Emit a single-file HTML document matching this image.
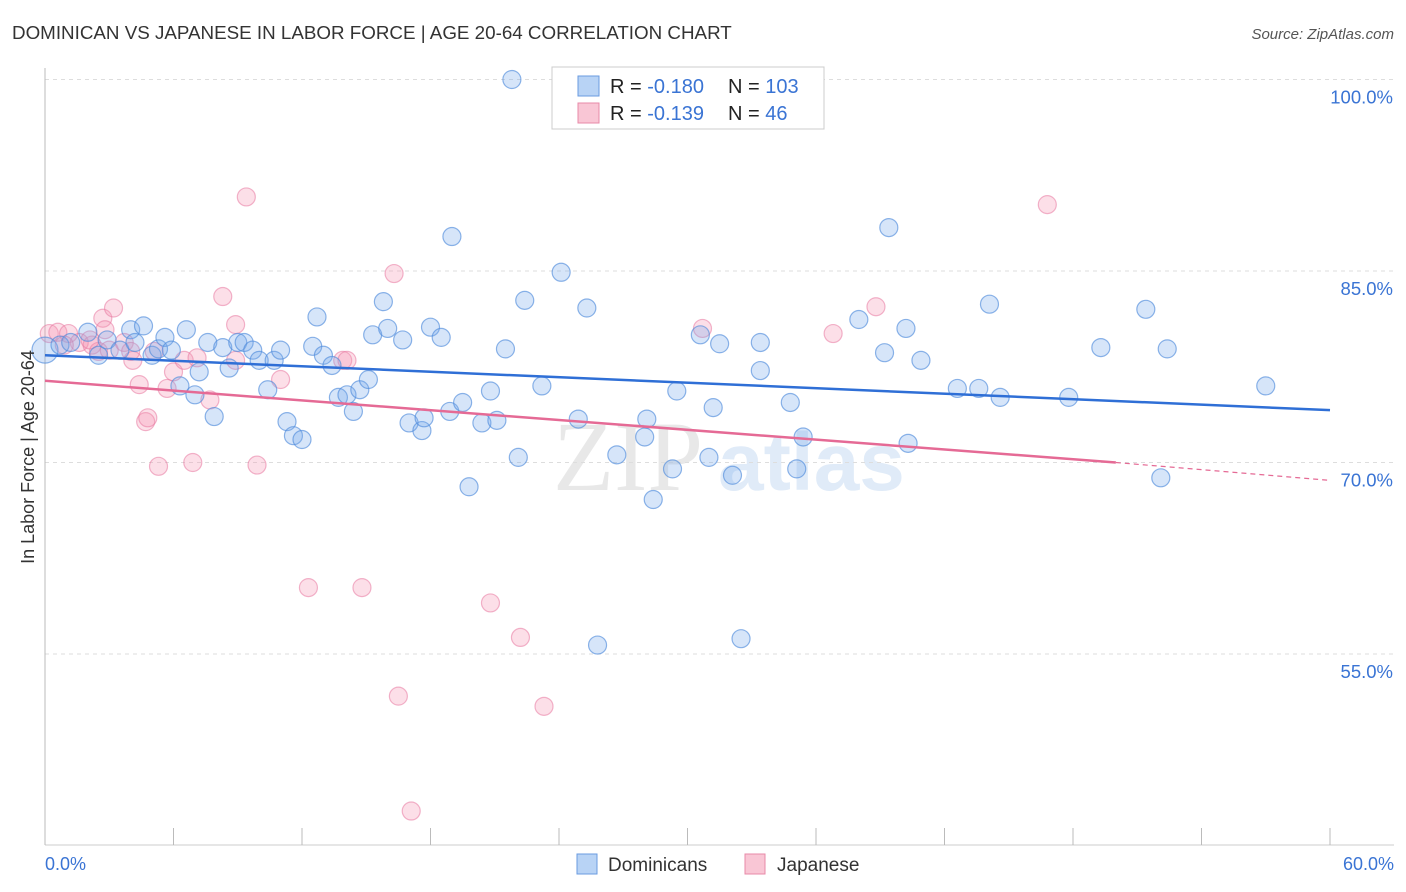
<!DOCTYPE html>
<html><head><meta charset="utf-8"><style>
body{margin:0;background:#fff;}
svg{display:block;font-family:"Liberation Sans",sans-serif;}
</style></head><body>
<svg id="chart" width="1406" height="892">
<text x="12" y="39" font-size="18.8" fill="#333">DOMINICAN VS JAPANESE IN LABOR FORCE | AGE 20-64 CORRELATION CHART</text>
<text x="1394" y="39" font-size="15" fill="#555" font-style="italic" text-anchor="end">Source: ZipAtlas.com</text>
<g>
<text x="553" y="490" font-size="100" font-family="Liberation Serif,serif" fill="#e8e8e8">ZIP</text>
<text x="718" y="490" font-size="82" fill="#e0ebf8" font-weight="bold">atlas</text>
</g>
<g id="grid"></g>
<g id="axes"></g>
<g id="pts"></g>
<g id="trends"></g>
<text transform="translate(34,457) rotate(-90)" font-size="18" fill="#333" text-anchor="middle">In Labor Force | Age 20-64</text>
<g>
<rect x="552" y="67" width="272" height="62" fill="#fff" stroke="#ccc"/>
<rect x="578" y="76" width="21" height="20" fill="#b8d3f5" stroke="#6a9be0"/>
<rect x="578" y="103" width="21" height="20" fill="#f9c6d5" stroke="#e88aa8"/>
<text x="610" y="93" font-size="20" fill="#222">R = <tspan fill="#3a74d4">-0.180</tspan></text>
<text x="728" y="93" font-size="20" fill="#222">N = <tspan fill="#3a74d4">103</tspan></text>
<text x="610" y="120" font-size="20" fill="#222">R = <tspan fill="#3a74d4"> -0.139</tspan></text>
<text x="728" y="120" font-size="20" fill="#222">N = <tspan fill="#3a74d4">  46</tspan></text>
</g>
<g>
<rect x="577" y="854" width="20" height="20" fill="#b8d3f5" stroke="#6a9be0"/>
<text x="608" y="871" font-size="19" fill="#333">Dominicans</text>
<rect x="745" y="854" width="20" height="20" fill="#f9c6d5" stroke="#e88aa8"/>
<text x="777" y="871" font-size="19" fill="#333">Japanese</text>
</g>
</svg>
<script>
const blueX=[0,0.7,1.2,2.0,2.5,2.9,3.5,4.0,4.2,4.6,5.0,5.3,5.6,5.9,6.3,6.6,7.0,7.2,7.6,7.9,8.3,8.6,9.0,9.3,9.7,10.0,10.4,10.7,11.0,11.3,11.6,12.0,12.5,12.7,13.0,13.4,13.7,14.1,14.4,14.7,15.1,15.3,15.8,16.0,16.7,17.0,17.6,17.7,18.0,18.5,18.9,19.0,19.5,19.8,20.4,20.8,21.1,21.8,21.5,22.1,22.4,23.2,24.1,24.9,25.3,25.8,26.7,28.0,28.1,28.4,29.3,29.5,30.6,31.0,31.2,31.5,32.1,32.5,33.4,33.4,34.8,35.1,35.4,38.0,39.2,39.4,40.2,40.3,40.9,42.6,43.6,44.1,44.6,47.8,49.3,51.4,52.1,52.4,57.0];
const blueY=[78.8,79.2,79.4,80.2,78.4,79.6,78.8,80.4,79.4,80.7,78.4,78.9,79.8,78.8,76.0,80.4,75.3,77.1,79.4,73.6,79.0,77.4,79.4,79.4,78.8,78.0,75.7,78.0,78.8,73.2,72.1,71.8,79.1,81.4,78.4,77.6,75.1,75.3,74.0,75.7,76.5,80.0,82.6,80.5,79.6,73.1,72.5,73.5,80.6,79.8,74.0,87.7,74.7,68.1,73.1,75.6,73.3,100.0,78.9,70.4,82.7,76.0,84.9,73.4,82.1,55.7,70.6,72.0,73.4,67.1,69.5,75.6,80.0,70.4,74.3,79.3,69.0,56.2,79.4,77.2,74.7,69.5,72.0,81.2,78.6,88.4,80.5,71.5,78.0,75.8,75.8,82.4,75.1,75.1,79.0,82.0,68.8,78.9,76.0];
const pinkX=[0.2,0.6,1.1,1.6,2.2,2.5,2.7,2.8,3.0,3.2,3.7,4.0,4.1,4.4,4.7,4.8,5.3,5.7,6.0,6.5,6.9,7.1,7.7,8.3,8.9,8.9,9.4,9.9,11.0,12.3,13.9,14.1,14.8,16.3,16.5,17.1,20.8,22.2,23.3,30.7,36.8,38.8,46.8,5.1,2.1,0.9];
const pinkY=[80.1,80.2,80.1,79.4,79.2,78.7,81.3,80.4,78.8,82.1,79.4,78.7,78.0,76.1,73.2,73.5,69.7,75.8,77.1,78.0,70.0,78.2,74.9,83.0,80.8,78.0,90.8,69.8,76.5,60.2,78.0,78.0,60.2,84.8,51.7,42.7,59.0,56.3,50.9,80.5,80.1,82.2,90.2,78.7,79.6,79.2];
const blueTrend=[[0,78.4],[60,74.1]];
const pinkTrend=[[0,76.4],[50,70.0],[60,68.6]];
const yTicks=[100,85,70,55];
const xTicks=[0,6,12,18,24,30,36,42,48,54,60];

const X=v=>45+v/60*1285;
const Y=v=>79.5+(100-v)/15*191.5;
const NS="http://www.w3.org/2000/svg";
function mk(p,tag,at){const e=document.createElementNS(NS,tag);for(const k in at)e.setAttribute(k,at[k]);p.appendChild(e);return e;}
const grid=document.getElementById('grid'),axes=document.getElementById('axes'),pts=document.getElementById('pts'),tr=document.getElementById('trends');
yTicks.forEach(t=>{
 const l=mk(grid,'line',{x1:45,x2:1394,y1:Y(t),y2:Y(t),stroke:'#ddd','stroke-dasharray':'4,4'});
 
 
 const tx=mk(axes,'text',{x:1393,y:Y(t)+24,'font-size':18.5,fill:'#3a74d4','text-anchor':'end'});
 tx.textContent=t.toFixed(1)+'%';
 
 
});
mk(axes,'line',{x1:45,x2:45,y1:68,y2:845,stroke:'#bbb'});
mk(axes,'line',{x1:45,x2:1394,y1:845,y2:845,stroke:'#ccc'});
xTicks.forEach(t=>{
 const l=mk(axes,'line',{x1:X(t),x2:X(t),y1:828,y2:845,stroke:'#bbb'});
 
 
});
const xl0=mk(axes,'text',{x:45,y:870,'font-size':18,fill:'#3a74d4'});xl0.textContent='0.0%';


const xl1=mk(axes,'text',{x:1394,y:870,'font-size':18,fill:'#3a74d4','text-anchor':'end'});xl1.textContent='60.0%';


pinkX.forEach((x,i)=>{
 const c=mk(pts,'circle',{cx:X(x),cy:Y(pinkY[i]),r:9,fill:'rgba(244,150,180,0.3)',stroke:'rgba(232,120,160,0.55)','stroke-width':1.2});
 
 
});
blueX.forEach((x,i)=>{
 const c=mk(pts,'circle',{cx:X(x),cy:Y(blueY[i]),r:i===0?13:9,fill:'rgba(120,170,235,0.3)',stroke:'rgba(80,140,220,0.65)','stroke-width':1.2});
 
 
});
const bl=mk(tr,'line',{x1:X(blueTrend[0][0]),y1:Y(blueTrend[0][1]),x2:X(blueTrend[1][0]),y2:Y(blueTrend[1][1]),stroke:'#2f6fd6','stroke-width':2.5});


const pl=mk(tr,'line',{x1:X(pinkTrend[0][0]),y1:Y(pinkTrend[0][1]),x2:X(pinkTrend[1][0]),y2:Y(pinkTrend[1][1]),stroke:'#e56a95','stroke-width':2.5});


const pd=mk(tr,'line',{x1:X(pinkTrend[1][0]),y1:Y(pinkTrend[1][1]),x2:X(pinkTrend[2][0]),y2:Y(pinkTrend[2][1]),stroke:'#e56a95','stroke-width':1.2,'stroke-dasharray':'5,4'});


</script>
</body></html>
